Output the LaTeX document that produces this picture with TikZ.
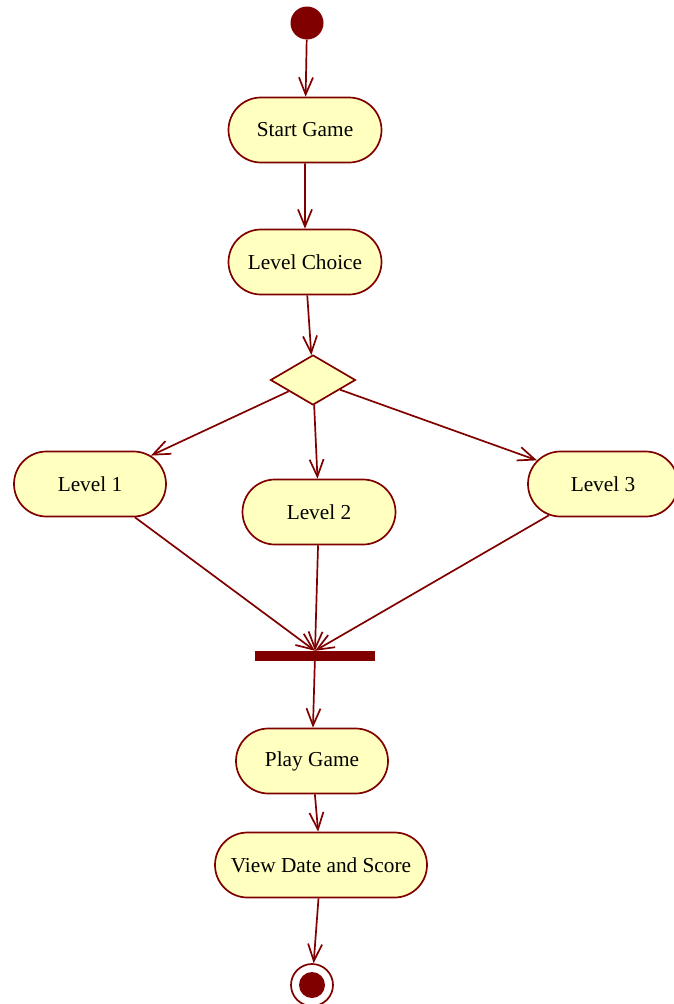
\documentclass[tikz,border=0pt]{standalone}
\usepackage{fontspec}
\setmainfont{Liberation Serif}
\usetikzlibrary{shapes.geometric,shapes.misc,arrows.meta}
\definecolor{dred}{RGB}{128,0,0}
\definecolor{lyel}{RGB}{255,255,192}
\tikzset{
  activity/.style={rounded rectangle, draw=dred, fill=lyel, line width=1.7pt,
    minimum height=65pt, inner sep=0pt, font=\fontsize{21.3}{25}\selectfont},
  flow/.style={draw=dred, line width=1.7pt, -{Straight Barb[length=17pt,width=14pt,line width=1.7pt]}},
}
\begin{document}
\begin{tikzpicture}[x=1pt,y=-1pt]
\useasboundingbox (0,0) rectangle (673,1004);
\node[circle, fill=dred, minimum size=33pt, inner sep=0pt] (start) at (307,23) {};
\node[activity, minimum width=153pt] (sg) at (305,130) {Start Game};
\node[activity, minimum width=153pt] (lc) at (305,262) {Level Choice};
\node[diamond, draw=dred, fill=lyel, line width=1.7pt, inner sep=0pt, aspect=1.7,
  minimum width=85pt, minimum height=50pt] (dec) at (313,380) {};
\node[activity, minimum width=152pt] (l1) at (90,484) {Level 1};
\node[activity, minimum width=153pt] (l2) at (319,512) {Level 2};
\node[activity, minimum width=150pt] (l3) at (603,484) {Level 3};
\node[rectangle, fill=dred, minimum width=120pt, minimum height=10pt, inner sep=0pt] (bar) at (315,656) {};
\node[activity, minimum width=152pt] (pg) at (312,761) {Play Game};
\node[activity, minimum width=212pt] (vd) at (321,865) {View Date and Score};
\node[circle, draw=dred, fill=white, line width=1.7pt, minimum size=42pt, inner sep=0pt] (end) at (312,985) {};
\node[circle, fill=dred, minimum size=26pt, inner sep=0pt] (endin) at (end.center) {};

\draw[flow] (start) -- (sg);
\draw[flow] (sg) -- (lc);
\draw[flow] (lc) -- (dec);
\draw[flow] (dec) -- (l1);
\draw[flow] (dec) -- (l2);
\draw[flow] (dec) -- (l3);
\draw[flow] (l1) -- (bar.north);
\draw[flow] (l2) -- (bar.north);
\draw[flow] (l3) -- (bar.north);
\draw[flow] (bar) -- (pg);
\draw[flow] (pg) -- (vd);
\draw[flow] (vd) -- (end);
\end{tikzpicture}
\end{document}
